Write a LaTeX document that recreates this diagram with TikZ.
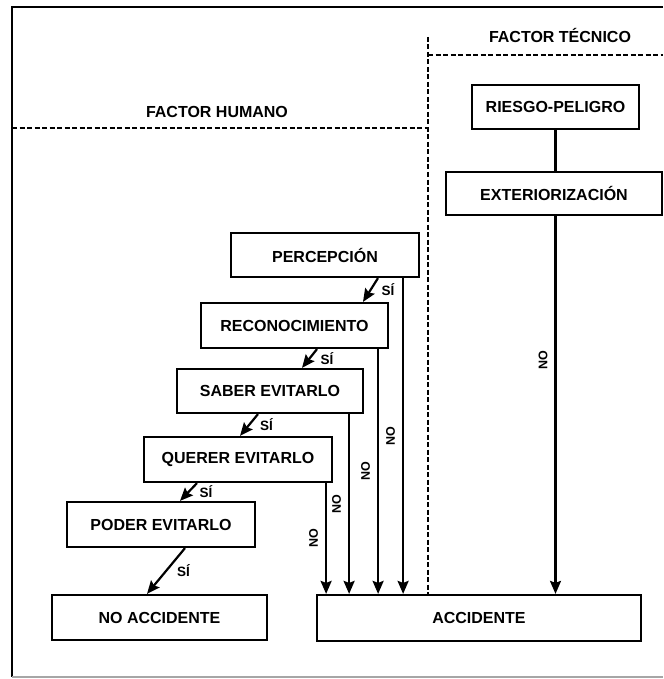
\documentclass[tikz,border=0pt]{standalone}
\usepackage{fontspec}
\setmainfont{Liberation Sans}
\usetikzlibrary{arrows.meta}

\begin{document}
\begin{tikzpicture}[x=1pt,y=-1pt,
  sep/.style={line width=1.3pt, dash pattern=on 5pt off 2.5pt},
  silab/.style={anchor=west, xshift=8pt, inner sep=2pt, font=\bfseries\fontsize{13.5}{15}\selectfont},
  nolab/.style={rotate=90, anchor=south, inner sep=7pt, font=\bfseries\fontsize{12.5}{14}\selectfont}]
\useasboundingbox (0,0) rectangle (663,679);
% frame
\draw[line width=2pt] (663,7) -- (12,7) -- (12,677);
\draw[line width=1.2pt, black!35] (12,677) -- (663,677);

\begin{scope}[every node/.style={rectangle,draw,line width=2.2pt,inner sep=0pt,
              font=\bfseries\fontsize{16}{19}\selectfont}]
  \node[minimum width=167pt, minimum height=44pt] (risk) at (555.5,107) {RIESGO-PELIGRO};
  \node[minimum width=216pt, minimum height=43pt] (ext) at (554,193.5) {EXTERIORIZACIÓN};
  \node[minimum width=188pt, minimum height=44pt] (perc) at (325,255) {PERCEPCIÓN};
  \node[minimum width=187pt, minimum height=45pt] (reco) at (294.5,325.5) {RECONOCIMIENTO};
  \node[minimum width=186pt, minimum height=44pt] (saber) at (270,391) {SABER EVITARLO};
  \node[minimum width=188pt, minimum height=45pt] (querer) at (238,459.5) {QUERER EVITARLO};
  \node[minimum width=188pt, minimum height=45pt] (poder) at (161,524.5) {PODER EVITARLO};
  \node[minimum width=215pt, minimum height=45pt] (noacc) at (159.5,617.5) {NO ACCIDENTE};
  \node[minimum width=324pt, minimum height=46pt] (acc) at (479,618) {ACCIDENTE};
\end{scope}

\begin{scope}[every node/.style={font=\bfseries\fontsize{16}{19}\selectfont}]
  \node (hum) at (217,112) {FACTOR HUMANO};
  \node (tec) at (560,35) {FACTOR TÉCNICO};
\end{scope}

% factor borders
\coordinate (vtop) at (428,37);
\draw[sep] (vtop) -- (vtop |- acc.north);
\draw[sep] (428,55) -- (663,55);
\draw[sep] (12,128) -- (428,128);

\begin{scope}[>={Stealth[length=13pt,width=11pt,inset=2pt]},
              every edge/.style={draw=black, line width=2.2pt}]
    \path (risk.south) edge (risk.south |- ext.north);
    \path[->] (risk.south |- ext.south) edge node[nolab, pos=0.38] {NO} (risk.south |- acc.north);

    \path[->] ([xshift=-17pt]perc.south east) edge node[nolab] {NO} ([xshift=-17pt]perc.south east |- acc.north);
    \path[->] ([xshift=-11pt]reco.south east) edge node[nolab] {NO} ([xshift=-11pt]reco.south east |- acc.north);
    \path[->] ([xshift=-15pt]saber.south east) edge node[nolab] {NO} ([xshift=-15pt]saber.south east |- acc.north);
    \path[->] ([xshift=-7pt]querer.south east) edge node[nolab] {NO} ([xshift=-7pt]querer.south east |- acc.north);

    \path[->] ([xshift=53pt]perc.south) edge node[silab] {SÍ} ([xshift=68.5pt]reco.north);
    \path[->] ([xshift=22.5pt]reco.south) edge node[silab] {SÍ} ([xshift=32pt]saber.north);
    \path[->] ([xshift=-12pt]saber.south) edge node[silab] {SÍ} ([xshift=2pt]querer.north);
    \path[->] ([xshift=-41pt]querer.south) edge node[silab] {SÍ} ([xshift=19pt]poder.north);
    \path[->] ([xshift=24pt]poder.south) edge node[silab] {SÍ} ([xshift=-12.5pt]noacc.north);
\end{scope}

\end{tikzpicture}
\end{document}
